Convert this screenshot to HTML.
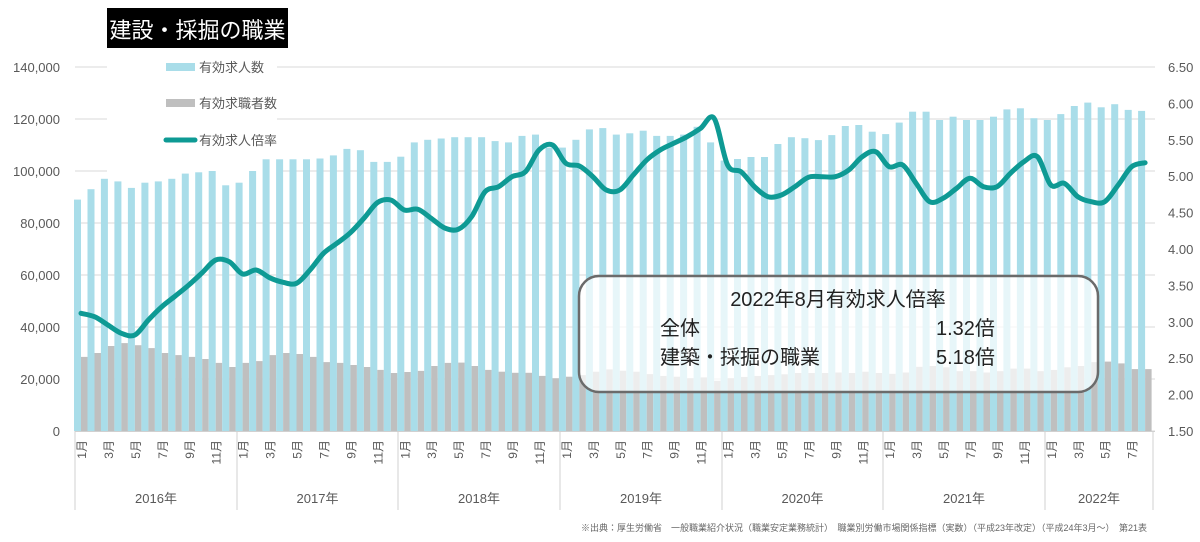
<!DOCTYPE html>
<html><head><meta charset="utf-8"><style>
body{margin:0;background:#fff;width:1200px;height:542px;overflow:hidden}
svg{display:block;font-family:"Liberation Sans","Noto Sans CJK JP",sans-serif}
</style></head><body>
<svg id="s" width="1200" height="542" xmlns="http://www.w3.org/2000/svg"></svg>
<script>
const blue=[89,93,97,96,93.5,95.5,96,97,99,99.5,100,94.5,
95.5,100,104.5,104.5,104.5,104.5,104.8,106,108.5,108,103.5,103.5,
105.5,111,112,112.5,113,113,113,111.5,111,113.5,114,109,
109,112,116,116.5,114,114.5,115.5,113.5,113.5,114,117,111,
104,104.6,105.4,105.4,110.4,113,112.6,111.9,113.8,117.3,117.7,115.1,
114.2,118.6,122.8,122.8,119.6,120.9,119.6,119.6,120.9,123.7,124.1,120.3,
119.6,121.9,125,126.3,124.5,125.7,123.5,123.1];
const gray=[28.5,30,32.7,33.8,33,31.9,30,29.2,28.5,27.7,26.2,24.6,
26.2,26.9,29.2,30,29.6,28.5,26.5,26.2,25.4,24.6,23.5,22.3,
22.7,23.1,25,26.2,26.3,25,23.5,22.8,22.4,22.4,21.2,20.3,
20.9,21.5,22.8,23.7,23.2,22.8,21.9,21.2,20.9,20.3,20.6,19.3,
20.3,20.8,21.2,21.5,21.8,22.3,22.3,22.3,22.5,22.3,22.8,22.3,
22,22.5,24.7,25,24.5,23,23,22.5,23,24,24,23,
23.5,24.5,25,26.5,26.7,26,23.8,23.8];
const ly=[313.3,316.7,325,333.3,335,320,306.7,296,285,272.7,260,261.7,
274,270,277.7,282.3,283.3,270,253.3,243.3,232.7,218.3,202.7,200,
210,209.3,218.3,228,229.3,216.7,191.7,186.7,176.7,171.7,150,145,
163.3,166,176.7,190,190,175,160,150,143.3,136.7,128.3,118.3,
165,171.7,186.7,196.7,195,186.7,177.3,176.7,176.7,170,156.7,151.7,
166.7,165,183.3,201.7,198.3,188.3,178.3,186.7,186.7,173.3,161.7,156.7,
185,183.3,196.7,201.7,201.7,185,166.7,162.7];
const Y0=431,k=2.6,W=13.47;
let h='';
for(let i=0;i<=7;i++){const y=Y0-52*i;h+=`<line x1="75" x2="1155" y1="${y}" y2="${y}" stroke="#d9d9d9" stroke-width="1"/>`;
h+=`<text x="60" y="${y+5}" font-size="13" fill="#595959" text-anchor="end">${i?(i*20)+',000':'0'}</text>`;}
for(let i=0;i<=10;i++){const y=Y0-36.4*i;h+=`<text x="1168" y="${(y+5).toFixed(1)}" font-size="13" fill="#595959">${(1.5+i*0.5).toFixed(2)}</text>`;}
h+=`<rect x="107" y="55" width="170" height="120" fill="#fff"/>`;
for(let i=0;i<80;i++){const x=74+W*i;
h+=`<rect x="${x.toFixed(1)}" y="${(Y0-blue[i]*k).toFixed(1)}" width="7" height="${(blue[i]*k).toFixed(1)}" fill="#a9dde9"/>`;
h+=`<rect x="${(x+7).toFixed(1)}" y="${(Y0-gray[i]*k).toFixed(1)}" width="6.5" height="${(gray[i]*k).toFixed(1)}" fill="#bfbfbf"/>`;}
const P=ly.map((y,i)=>[81+W*i,y]);
let d=`M${P[0][0]},${P[0][1]}`;
for(let i=0;i<P.length-1;i++){const p0=P[i-1]||P[i],p1=P[i],p2=P[i+1],p3=P[i+2]||p2;
d+=` C${(p1[0]+(p2[0]-p0[0])/6).toFixed(1)},${(p1[1]+(p2[1]-p0[1])/6).toFixed(1)} ${(p2[0]-(p3[0]-p1[0])/6).toFixed(1)},${(p2[1]-(p3[1]-p1[1])/6).toFixed(1)} ${p2[0].toFixed(1)},${p2[1]}`;}
h+=`<path d="${d}" fill="none" stroke="#0e9a94" stroke-width="5" stroke-linejoin="round" stroke-linecap="round"/>`;
h+=`<rect x="579" y="276" width="519" height="116" rx="20" fill="#fff" fill-opacity="0.72" stroke="#6b6b6b" stroke-width="2.5"/>`;
h+=`<text x="838" y="306" font-size="20" fill="#222" text-anchor="middle">2022年8月有効求人倍率</text>`;
h+=`<text x="660" y="335" font-size="20" fill="#222">全体</text><text x="936" y="335" font-size="20" fill="#222">1.32倍</text>`;
h+=`<text x="660" y="364" font-size="20" fill="#222">建築・採掘の職業</text><text x="936" y="364" font-size="20" fill="#222">5.18倍</text>`;
h+=`<rect x="166" y="63" width="29" height="8" fill="#a9dde9"/><text x="199" y="72" font-size="13" fill="#595959">有効求人数</text>`;
h+=`<rect x="166" y="99" width="29" height="8" fill="#bfbfbf"/><text x="199" y="108" font-size="13" fill="#595959">有効求職者数</text>`;
h+=`<line x1="166" x2="195" y1="140" y2="140" stroke="#0e9a94" stroke-width="5" stroke-linecap="round"/><text x="199" y="145" font-size="13" fill="#595959">有効求人倍率</text>`;
h+=`<rect x="107" y="8" width="181" height="40" fill="#000"/><text x="197.5" y="38" font-size="22" fill="#fff" text-anchor="middle">建設・採掘の職業</text>`;
h+=`<line x1="75" x2="1155" y1="431.5" y2="431.5" stroke="#d0d0d0"/>`;
const bounds=[75,237,398,560,722,883,1045,1153];
bounds.forEach(b=>h+=`<line x1="${b}" x2="${b}" y1="431" y2="510" stroke="#d0d0d0"/>`);
const yrs=['2016年','2017年','2018年','2019年','2020年','2021年','2022年'];
yrs.forEach((t,j)=>h+=`<text x="${(bounds[j]+bounds[j+1])/2}" y="503" font-size="13" fill="#595959" text-anchor="middle">${t}</text>`);
for(let i=0;i<80;i+=2){const m=(i%12)+1,cx=81.5+W*i;
h+=`<text transform="translate(${cx+4.5},440) rotate(-90)" font-size="12" fill="#595959" text-anchor="end">${m}月</text>`;}
h+=`<text x="1147" y="531" font-size="9" fill="#666" text-anchor="end">※出典：厚生労働省　一般職業紹介状況（職業安定業務統計）　職業別労働市場関係指標（実数）（平成23年改定）（平成24年3月～）　第21表</text>`;
document.getElementById('s').innerHTML=h;
</script>
</body></html>
